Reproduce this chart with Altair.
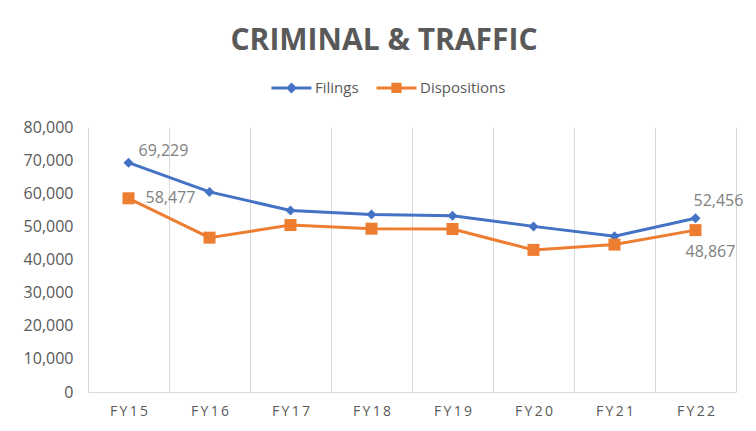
import altair as alt
import pandas as pd

# ---- data ----
years = ["FY15", "FY16", "FY17", "FY18", "FY19", "FY20", "FY21", "FY22"]
filings = [69229, 60400, 54800, 53600, 53200, 50000, 47000, 52456]
dispositions = [58477, 46600, 50400, 49300, 49200, 42900, 44500, 48867]
series_names = ["Filings", "Dispositions"]
series_colors = ["#4472C4", "#ED7D31"]
series_markers = ["diamond", "square"]
marker_sizes = [100, 144]
y_ticks = [0, 10000, 20000, 30000, 40000, 50000, 60000, 70000, 80000]
title_text = "CRIMINAL  &  TRAFFIC"

rows = []
for name, vals in zip(series_names, [filings, dispositions]):
    for yr, v in zip(years, vals):
        rows.append({"year": yr, "series": name, "value": v})
df = pd.DataFrame(rows)

FONT = "Open Sans"
GRAY = "#595959"

x_enc = alt.X("year:N", sort=years,
              scale=alt.Scale(paddingInner=0, paddingOuter=0),
              axis=alt.Axis(title=None, labelAngle=0, ticks=False, grid=True,
                            tickBand="extent", gridColor="#d9d9d9",
                            domainColor="#d9d9d9", labelFont=FONT,
                            labelFontSize=14, labelColor=GRAY, labelPadding=12,
                            labelExpr="join(split(datum.label, ''), '\u2009')"))
y_enc = alt.Y("value:Q",
              scale=alt.Scale(domain=[0, 80000], nice=False),
              axis=alt.Axis(title=None, values=y_ticks, format=",d", grid=False,
                            domain=False, ticks=False, labelFont=FONT,
                            labelFontSize=16, labelColor=GRAY, labelPadding=15))

# legend symbols (stroked): a line segment with the series marker in its middle
sym_diamond = ("M-1,0H1M0,-0.17L0.17,0L0,0.17L-0.17,0Z"
               "M0,-0.06L0.06,0L0,0.06L-0.06,0Z")
sym_square = ("M-1,0H1M-0.18,-0.18H0.18V0.18H-0.18Z"
              "M-0.07,-0.07H0.07V0.07H-0.07Z")

legend = alt.Legend(title=None, orient="none", legendX=182, legendY=-61,
                    direction="horizontal", labelFont=FONT, labelFontSize=15,
                    labelColor=GRAY, symbolSize=1600, labelOffset=2,
                    columnPadding=11, padding=0, symbolStrokeWidth=3,
                    symbolOpacity=1)

color_scale = alt.Scale(domain=series_names, range=series_colors)
color_plain = alt.Color("series:N", scale=color_scale, legend=None)

base = alt.Chart(df)
line = base.mark_line(strokeWidth=3).encode(
    x=x_enc, y=y_enc, color=color_plain, detail="series:N")
pts = []
for name, shp, sz in zip(series_names, series_markers, marker_sizes):
    pts.append(base.transform_filter(alt.datum.series == name).mark_point(
        filled=True, opacity=1, shape=shp, size=sz).encode(
        x=x_enc, y=y_enc, color=color_plain))

# invisible layer that only carries the legend
legend_layer = base.mark_point(filled=False, opacity=0, strokeWidth=3).encode(
    x=x_enc, y=y_enc,
    color=alt.Color("series:N", scale=color_scale, legend=legend),
    shape=alt.Shape("series:N", scale=alt.Scale(domain=series_names,
                                                range=[sym_diamond, sym_square]),
                    legend=legend),
)


def label(name, yr, align, dx, dy):
    return base.transform_filter(
        (alt.datum.series == name) & (alt.datum.year == yr)
    ).mark_text(align=align, baseline="middle", dx=dx, dy=dy, font=FONT,
                fontSize=16, color="#808080").encode(
        x=x_enc, y=y_enc, text=alt.Text("value:Q", format=",d"))


labels = [
    label("Filings", "FY15", "left", 10, -12),
    label("Dispositions", "FY15", "left", 17, 0),
    label("Filings", "FY22", "left", -2, -17),
    label("Dispositions", "FY22", "left", -10, 22),
]

chart = alt.layer(legend_layer, line, *pts, *labels).properties(
    width=648, height=265,
    title=alt.Title(title_text, font=FONT, fontSize=30, fontWeight="bold",
                    color=GRAY, anchor="middle", frame="group", dx=-28,
                    offset=10),
    autosize=alt.AutoSizeParams(type="none"),
    padding={"left": 80, "top": 119, "right": 12, "bottom": 35},
    background="white",
).configure_view(stroke=None)

chart.save("out.html", embed_options={"renderer": "svg", "actions": False})
